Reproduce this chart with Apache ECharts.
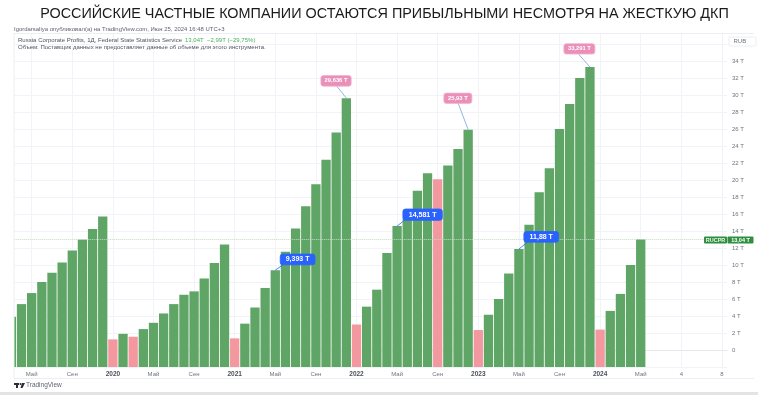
<!DOCTYPE html>
<html><head><meta charset="utf-8">
<style>html,body{margin:0;padding:0;background:#fff}#c{width:758px;height:395px}</style>
<script src="https://cdn.jsdelivr.net/npm/echarts@6/dist/echarts.min.js"></script>
</head><body><div id="c"></div>
<script>
const titleText = 'РОССИЙСКИЕ ЧАСТНЫЕ КОМПАНИИ ОСТАЮТСЯ ПРИБЫЛЬНЫМИ НЕСМОТРЯ НА ЖЕСТКУЮ ДКП';
const publishText = 'Igordarsaliya опубликовал(а) на TradingView.com, Июн 25, 2024 16:48 UTC+3';
const legendName = 'Russia Corporate Profits, 1Д, Federal State Statistics Service';
const legendValue = '13,04T  −2,99T (−29,75%)';
const volumeText = 'Объем: Поставщик данных не предоставляет данные об объеме для этого инструмента.';

const profits = [3.9,5.4,6.7,8.0,9.1,10.3,11.7,13.0,14.25,15.7,
  1.25,1.9,1.56,2.46,3.2,4.3,5.4,6.5,6.9,8.4,10.25,12.4,
  1.37,3.1,5.0,7.3,9.393,11.55,14.3,16.9,19.5,22.4,25.6,29.636,
  3.0,5.1,7.1,11.4,14.581,15.4,18.75,20.8,20.1,21.7,23.65,25.93,
  2.35,4.15,6.0,9.0,11.88,14.75,18.55,21.4,26.0,28.95,32.0,33.291,
  2.4,4.6,6.6,10.0,13.04];
const slots = 71;
const categories = Array.from({length:slots},(_,i)=>'m'+i);
const tickSlots = [2,6,10,14,18,22,26,30,34,38,42,46,50,54,58,62,66,70];
const tickTexts = ['Май','Сен','2020','Май','Сен','2021','Май','Сен','2022','Май','Сен','2023','Май','Сен','2024','Май','4','8'];
const yTicks = [0,2,4,6,8,10,12,14,16,18,20,22,24,26,28,30,32,34];
const lastValue = 13.04;
const callouts = [
  {i:26, v:9.393,  t:'9,393 T',  c:'#2962ff', dx:22.3,  dy:-10.7, w:34.7, h:10.7, fs:7, lx:7.7,  ly:-5.3},
  {i:33, v:29.636, t:'29,636 T', c:'#ea8fb8', dx:-10.3, dy:-17.3, w:30.3, h:10.7, fs:5.8, lx:-9.6, ly:-12},
  {i:38, v:14.581, t:'14,581 T', c:'#2962ff', dx:25.5,  dy:-11.4, w:39.4, h:11.3, fs:7, lx:7.3,  ly:-5.7},
  {i:45, v:25.93,  t:'25,93 T',  c:'#ea8fb8', dx:-10.3, dy:-31.4, w:28,   h:10.3, fs:5.8, lx:-10,  ly:-26.4},
  {i:50, v:11.88,  t:'11,88 T',  c:'#2962ff', dx:22.3,  dy:-12.2, w:34.7, h:10.6, fs:7, lx:8.4,  ly:-6.7},
  {i:57, v:33.291, t:'33,291 T', c:'#ea8fb8', dx:-10.6, dy:-18.2, w:31,   h:10.4, fs:5.8, lx:-11.4,ly:-13}
];
const UP='#5ea566', DOWN='#f4989f', GRID='#f1f3f8', TXT='#6f7480';
const font='"Liberation Sans", Arial, sans-serif';

const chart = echarts.init(document.getElementById('c'),null,{renderer:'canvas'});
const tickMap = {}; tickSlots.forEach((s,k)=>tickMap[s]=tickTexts[k]);
chart.setOption({
  animation:false,
  backgroundColor:'#fff',
  textStyle:{fontFamily:font},
  title:{text:titleText,left:379.5,textAlign:'center',top:2,textStyle:{fontSize:14.4,fontWeight:'normal',color:'#1a1a1a',fontFamily:font}},
  grid:{left:6.3,right:31,top:33,bottom:28,containLabel:false},
  xAxis:{type:'category',data:categories,boundaryGap:true,
    axisLine:{show:true,lineStyle:{color:'#e6e8ee',width:1}},axisTick:{show:false},
    axisLabel:{interval:0,margin:4,hideOverlap:false,fontSize:6,color:TXT,
      formatter:(v,i)=>{const t=tickMap[i];if(!t)return '';return /^20/.test(t)?'{y|'+t+'}':t;},
      rich:{y:{fontSize:6.5,fontWeight:'bold',color:'#4a4f5a'}}},
    splitLine:{show:true,alignWithLabel:true,interval:(i)=>tickMap[i]!==undefined,lineStyle:{color:GRID,width:1}}
  },
  yAxis:{type:'value',position:'right',min:-2,max:37.3,interval:2,startValue:-2,
    axisLine:{show:false},axisTick:{show:false},
    axisLabel:{margin:5,fontSize:6,color:TXT,showMaxLabel:false,
      formatter:v=>yTicks.includes(v)?(v===0?'0':v+' T'):''},
    splitLine:{show:true,lineStyle:{color:GRID,width:1}}
  },
  series:[
    {type:'bar',barWidth:9.3,barCategoryGap:0,
     data:profits.map((v,i)=>({value:v,itemStyle:{color:(i>0&&v<profits[i-1])?DOWN:UP}})),
     markLine:{silent:true,symbol:'none',label:{show:false},
       lineStyle:{color:'#c3dcc7',type:'dotted',width:1},data:[{yAxis:lastValue}]}
    },
    {type:'custom',z:5,clip:false,
     data:callouts.map(c=>[c.i,c.v]),
     encode:{x:0,y:1},
     renderItem:(p,api)=>{
       const c=callouts[p.dataIndex];
       const pt=api.coord([api.value(0),api.value(1)]);
       const cx=pt[0]+c.dx, cy=pt[1]+c.dy;
       return {type:'group',children:[
         {type:'line',shape:{x1:pt[0],y1:pt[1],x2:pt[0]+c.lx,y2:pt[1]+c.ly},style:{stroke:c.c==='#2962ff'?'#2962ff':'#7a9fe0',lineWidth:0.8}},
         {type:'rect',shape:{x:cx-c.w/2,y:cy-c.h/2,width:c.w,height:c.h,r:2.5},style:{fill:c.c,stroke:c.c==='#2962ff'?'#2962ff':'#f0b4d2',lineWidth:0.8}},
         {type:'text',style:{x:cx,y:cy,text:c.t,align:'center',verticalAlign:'middle',fill:'#fff',font:'bold '+c.fs+'px '+font}}
       ]};
     }}
  ],
  graphic:[
    {type:'rect',z:1000,shape:{x:0,y:33,width:14,height:337},style:{fill:'#fff'}},
    {type:'line',z:1001,shape:{x1:14,y1:33,x2:14,y2:378},style:{stroke:'#eceef3',lineWidth:1}},
    {type:'line',z:1001,shape:{x1:14,y1:33.5,x2:754,y2:33.5},style:{stroke:'#eceef3',lineWidth:1}},
    {type:'line',z:1001,shape:{x1:14,y1:378.5,x2:754,y2:378.5},style:{stroke:'#eceef3',lineWidth:1}},
    {type:'text',z:1001,style:{x:14,y:29,text:publishText,verticalAlign:'middle',fill:'#5f6470',font:'5.95px '+font}},
    {type:'text',z:1001,style:{x:18,y:40,text:legendName,verticalAlign:'middle',fill:'#4f5460',font:'6.05px '+font}},
    {type:'text',z:1001,style:{x:185,y:40,text:legendValue,verticalAlign:'middle',fill:'#4caf5c',font:'6px '+font}},
    {type:'text',z:1001,style:{x:18,y:47,text:volumeText,verticalAlign:'middle',fill:'#4f5460',font:'6px '+font}},
    {type:'rect',z:1001,shape:{x:729,y:37,width:27,height:9,r:1},style:{fill:'#fff',stroke:'#eceef3',lineWidth:1}},
    {type:'text',z:1001,style:{x:733.5,y:41.5,text:'RUB',verticalAlign:'middle',fill:'#6f7480',font:'6px '+font}},
    {type:'rect',z:1001,shape:{x:704,y:236.5,width:23,height:7,r:1},style:{fill:'#2f8f3f'}},
    {type:'rect',z:1001,shape:{x:727.5,y:236.5,width:26,height:7,r:1},style:{fill:'#2f8f3f'}},
    {type:'text',z:1002,style:{x:715.5,y:240,text:'RUCPR',align:'center',verticalAlign:'middle',fill:'#e8f5ea',font:'bold 5.5px '+font}},
    {type:'text',z:1002,style:{x:740.5,y:240,text:'13,04 T',align:'center',verticalAlign:'middle',fill:'#fff',font:'bold 5.5px '+font}},
    {type:'rect',z:1001,shape:{x:14,y:383,width:5,height:2},style:{fill:'#2a2e39'}},
    {type:'rect',z:1001,shape:{x:16,y:383,width:2,height:5},style:{fill:'#2a2e39'}},
    {type:'circle',z:1001,shape:{cx:20.5,cy:384,r:1},style:{fill:'#2a2e39'}},
    {type:'polygon',z:1001,shape:{points:[[22,383],[25,383],[22.5,388],[20.5,388]]},style:{fill:'#2a2e39'}},
    {type:'text',z:1001,style:{x:26,y:385.5,text:'TradingView',verticalAlign:'middle',fill:'#5f6470',font:'6.5px '+font}},
    {type:'rect',z:1001,shape:{x:0,y:392,width:758,height:3},style:{fill:'#e4e4e4'}}
  ]
});
</script></body></html>
